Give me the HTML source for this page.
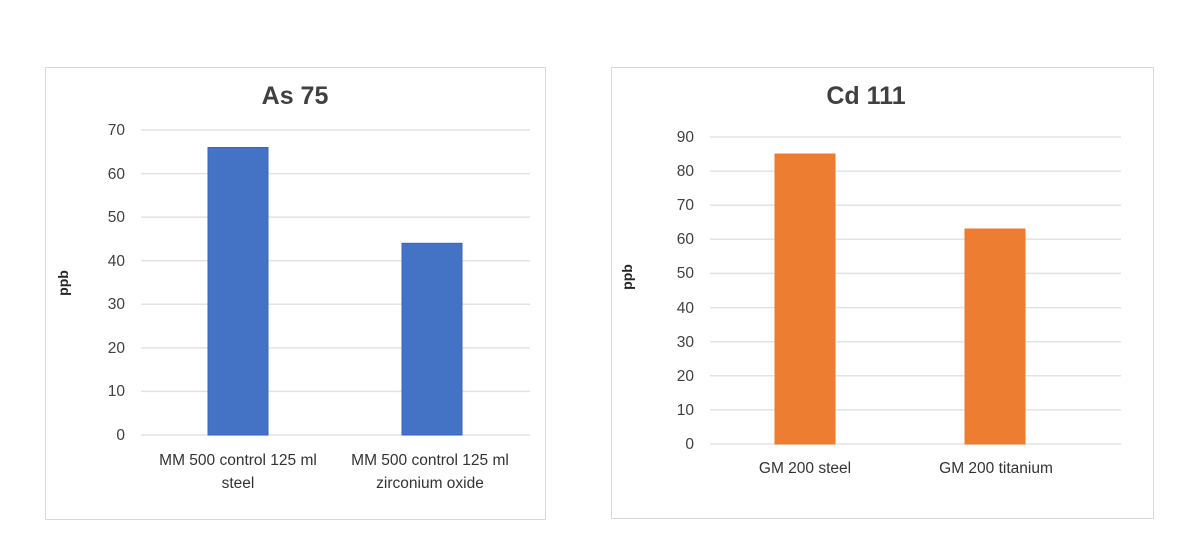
<!DOCTYPE html>
<html><head><style>
html,body{margin:0;padding:0;background:#fff;}
svg text{font-family:"Liberation Sans",sans-serif;}
</style></head><body>
<svg width="1200" height="544" xmlns="http://www.w3.org/2000/svg">
<rect x="0" y="0" width="1200" height="544" fill="#fff"/>
<!-- Left chart -->
<rect x="45.5" y="67.5" width="500" height="452" fill="#fff" stroke="#d9d9d9"/>
<text x="295" y="104" font-size="25" font-weight="bold" fill="#404040" text-anchor="middle">As 75</text>
<g stroke="#e3e3e3" stroke-width="1.5">
<line x1="141" x2="530" y1="130" y2="130"/><line x1="141" x2="530" y1="173.6" y2="173.6"/>
<line x1="141" x2="530" y1="217.1" y2="217.1"/><line x1="141" x2="530" y1="260.7" y2="260.7"/>
<line x1="141" x2="530" y1="304.3" y2="304.3"/><line x1="141" x2="530" y1="347.9" y2="347.9"/>
<line x1="141" x2="530" y1="391.4" y2="391.4"/><line x1="141" x2="530" y1="435" y2="435"/>
</g>
<g font-size="15.5" fill="#404040" text-anchor="end">
<text x="125" y="135">70</text><text x="125" y="179">60</text><text x="125" y="222">50</text>
<text x="125" y="266">40</text><text x="125" y="309">30</text><text x="125" y="353">20</text>
<text x="125" y="396">10</text><text x="125" y="440">0</text>
</g>
<rect x="208" y="147.5" width="60" height="287.5" fill="#4472c4" stroke="#3a66c0"/>
<rect x="402" y="243.3" width="60" height="191.7" fill="#4472c4" stroke="#3a66c0"/>
<text transform="translate(68,283) rotate(-90)" font-size="14" font-weight="bold" fill="#262626" text-anchor="middle">ppb</text>
<g font-size="15.5" fill="#333" text-anchor="middle">
<text x="238" y="465">MM 500 control 125 ml</text><text x="238" y="488">steel</text>
<text x="430" y="465">MM 500 control 125 ml</text><text x="430" y="488">zirconium oxide</text>
</g>
<!-- Right chart -->
<rect x="611.5" y="67.5" width="542" height="451" fill="#fff" stroke="#d9d9d9"/>
<text x="866" y="104" font-size="25" font-weight="bold" fill="#404040" text-anchor="middle">Cd 111</text>
<g stroke="#e3e3e3" stroke-width="1.5">
<line x1="710" x2="1121" y1="137" y2="137"/><line x1="710" x2="1121" y1="171.1" y2="171.1"/>
<line x1="710" x2="1121" y1="205.2" y2="205.2"/><line x1="710" x2="1121" y1="239.3" y2="239.3"/>
<line x1="710" x2="1121" y1="273.4" y2="273.4"/><line x1="710" x2="1121" y1="307.6" y2="307.6"/>
<line x1="710" x2="1121" y1="341.7" y2="341.7"/><line x1="710" x2="1121" y1="375.8" y2="375.8"/>
<line x1="710" x2="1121" y1="409.9" y2="409.9"/><line x1="710" x2="1121" y1="444" y2="444"/>
</g>
<g font-size="15.5" fill="#404040" text-anchor="end">
<text x="694" y="142">90</text><text x="694" y="176">80</text><text x="694" y="210">70</text>
<text x="694" y="244">60</text><text x="694" y="278">50</text><text x="694" y="313">40</text>
<text x="694" y="347">30</text><text x="694" y="381">20</text><text x="694" y="415">10</text>
<text x="694" y="449">0</text>
</g>
<rect x="775" y="154" width="60" height="290" fill="#ed7d31" stroke="#f07a2a"/>
<rect x="965" y="229" width="60" height="215" fill="#ed7d31" stroke="#f07a2a"/>
<text transform="translate(632,277) rotate(-90)" font-size="14" font-weight="bold" fill="#262626" text-anchor="middle">ppb</text>
<g font-size="15.5" fill="#333" text-anchor="middle">
<text x="805" y="473">GM 200 steel</text><text x="996" y="473">GM 200 titanium</text>
</g>
</svg>
</body></html>
